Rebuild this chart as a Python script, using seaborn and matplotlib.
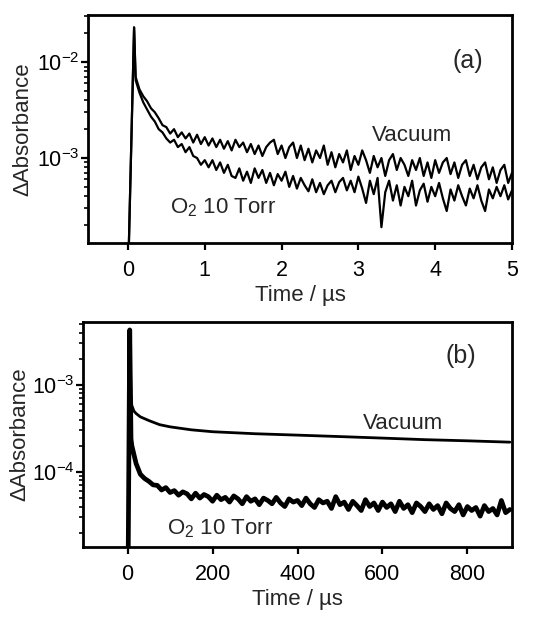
import numpy as np
import pandas as pd
import matplotlib
matplotlib.use("Agg")
import matplotlib.pyplot as plt
import seaborn as sns
from matplotlib.ticker import LogLocator, NullFormatter, FixedLocator

sns.set_style("ticks")
plt.rcParams['font.family'] = ['Liberation Sans', 'DejaVu Sans']
plt.rcParams['mathtext.default'] = 'regular'

# ---------------- Panel (a): time in microseconds, absorbance in mΔA ----------------
t_a_head = [0.0, 0.08]
vac_a_head_mA = [0.05, 23.0]
o2_a_head_mA = [0.05, 23.0]
t_a = np.round(np.arange(0.10, 5.001, 0.05), 2)
vac_a_mA = [7.0, 5.2, 4.4, 3.9, 3.3, 3.0, 2.6, 2.2, 2.1, 1.8,
            2.0, 1.65, 1.85, 1.6, 1.8, 1.45, 1.75, 1.4, 1.65, 1.35,
            1.6, 1.3, 1.55, 1.25, 1.5, 1.2, 1.55, 1.3, 1.45, 1.15,
            1.4, 1.1, 1.35, 1.05, 1.3, 1.45, 1.55, 1.1, 1.35, 1.0,
            1.3, 1.45, 1.0, 1.35, 0.95, 1.25, 0.9, 1.2, 1.0, 1.35,
            0.85, 1.15, 0.8, 1.1, 0.9, 1.2, 0.75, 1.05, 0.85, 1.2,
            0.95, 0.7, 1.05, 0.8, 1.0, 0.65, 0.95, 1.1, 0.75, 1.0,
            0.85, 0.65, 0.95, 0.75, 1.0, 0.65, 0.9, 0.62, 0.95, 0.7,
            0.9, 1.0, 0.68, 0.9, 0.62, 0.85, 0.95, 0.65, 0.85, 0.6,
            0.8, 0.9, 0.6, 0.8, 0.55, 0.75, 0.85, 0.55, 0.7]
o2_a_mA = [6.5, 4.8, 3.8, 3.2, 2.7, 2.4, 2.0, 1.85, 1.6, 1.45,
           1.55, 1.3, 1.4, 1.15, 1.3, 1.05, 1.0, 0.85, 0.95, 0.8,
           0.95, 0.75, 0.9, 0.7, 0.85, 0.65, 0.62, 0.78, 0.58, 0.72,
           0.55, 0.78, 0.62, 0.75, 0.55, 0.7, 0.52, 0.68, 0.58, 0.72,
           0.5, 0.65, 0.48, 0.62, 0.52, 0.45, 0.6, 0.44, 0.55, 0.42,
           0.52, 0.58, 0.44, 0.56, 0.62, 0.46, 0.58, 0.44, 0.64, 0.48,
           0.34, 0.58, 0.42, 0.62, 0.19, 0.44, 0.58, 0.36, 0.52, 0.32,
           0.5, 0.4, 0.58, 0.32, 0.46, 0.54, 0.35, 0.5, 0.4, 0.55,
           0.38, 0.28, 0.47, 0.36, 0.52, 0.4, 0.32, 0.48, 0.38, 0.52,
           0.36, 0.28, 0.47, 0.38, 0.5, 0.4, 0.52, 0.37, 0.46]

# ---------------- Panel (b): time in microseconds ----------------
t_b_vac = [0, 5, 8, 10, 15, 20, 30, 50, 75, 100, 150, 200, 300, 400, 500, 600, 700, 800, 900]
vac_b = [1e-6, 4.3e-3, 7.5e-4, 5.8e-4, 5.0e-4, 4.7e-4, 4.3e-4, 3.9e-4, 3.5e-4, 3.3e-4,
         3.05e-4, 2.9e-4, 2.75e-4, 2.65e-4, 2.55e-4, 2.45e-4, 2.35e-4, 2.28e-4, 2.2e-4]
t_b_o2_head = [0, 5, 8]
o2_b_head = [1e-6, 4.3e-3, 2.4e-4]
t_b_o2 = np.arange(10, 901, 10)
o2_b_1e5 = [20, 12.5, 9.4, 8.4, 7.8, 7.1, 7.0, 6.2, 6.6, 5.8,
            6.1, 5.4, 5.9, 5.6, 4.9, 5.7, 5.0, 5.5, 5.2, 4.6,
            5.4, 4.8, 5.1, 4.5, 5.3, 4.9, 4.3, 5.2, 4.6, 4.9,
            4.2, 5.0, 4.7, 4.3, 5.1, 4.4, 4.0, 4.9, 4.5, 4.7,
            4.1, 5.0, 4.3, 3.9, 4.8, 4.4, 4.6, 3.8, 5.2, 4.2,
            4.5, 3.7, 4.6, 4.1, 3.6, 4.8, 4.0, 4.4, 3.6, 4.5,
            3.9, 4.3, 3.5, 4.6, 3.8, 4.2, 3.4, 4.4, 4.0, 3.5,
            4.3, 3.7, 4.1, 3.3, 4.4, 3.8, 3.5, 4.2, 3.2, 4.0,
            3.6, 3.9, 3.1, 4.1, 3.5, 3.8, 3.2, 4.7, 3.4, 3.7]

labels = ["Vacuum", "O$_2$ 10 Torr"]

df_vac_a = pd.DataFrame({"t": list(t_a_head) + list(t_a),
                         "A": np.array(vac_a_head_mA + vac_a_mA) * 1e-3})
df_o2_a = pd.DataFrame({"t": list(t_a_head) + list(t_a),
                        "A": np.array(o2_a_head_mA + o2_a_mA) * 1e-3})
df_vac_b = pd.DataFrame({"t": t_b_vac, "A": vac_b})
df_o2_b = pd.DataFrame({"t": list(t_b_o2_head) + list(t_b_o2),
                        "A": list(o2_b_head) + list(np.array(o2_b_1e5) * 1e-5)})

W, H = 544, 617
fig = plt.figure(figsize=(W / 100, H / 100), dpi=100)
ax1 = fig.add_axes([88 / W, 1 - 243 / H, (512 - 88) / W, (243 - 15) / H])
ax2 = fig.add_axes([83 / W, 1 - 547 / H, (512 - 83) / W, (547 - 322) / H])

FS = 16
for df in (df_vac_a, df_o2_a):
    sns.lineplot(data=df, x="t", y="A", ax=ax1, color="black", lw=1.6,
                 estimator=None, sort=False)
sns.lineplot(data=df_vac_b, x="t", y="A", ax=ax2, color="black", lw=2.0,
             estimator=None, sort=False)
sns.lineplot(data=df_o2_b, x="t", y="A", ax=ax2, color="black", lw=3.4,
             estimator=None, sort=False)

for ax in (ax1, ax2):
    ax.set_yscale("log")
    ax.yaxis.set_minor_formatter(NullFormatter())
    ax.yaxis.set_minor_locator(LogLocator(base=10, subs=np.arange(2, 10)))
    for s in ax.spines.values():
        s.set_linewidth(2.0)
        s.set_color("black")
    ax.tick_params(axis="both", which="major", direction="out", length=5, width=1.6,
                   labelsize=15.5, colors="black")
    ax.tick_params(axis="x", which="major", pad=7)
    ax.tick_params(axis="y", which="major", pad=1)
    ax.tick_params(axis="y", which="minor", direction="out", length=3, width=1.4)
    ax.set_ylabel("ΔAbsorbance", fontsize=FS)
    ax.set_xlabel("Time / µs", fontsize=FS, labelpad=3)

ax1.set_xlim(-0.52, 5.0)
ax1.set_ylim(1.3e-4, 3.1e-2)
ax1.xaxis.set_major_locator(FixedLocator([0, 1, 2, 3, 4, 5]))
ax1.yaxis.set_label_coords(-0.13, 0.5)

ax2.set_xlim(-105, 905)
ax2.set_ylim(1.37e-5, 5.3e-3)
ax2.xaxis.set_major_locator(FixedLocator([0, 200, 400, 600, 800]))
ax2.yaxis.set_label_coords(-0.122, 0.5)

ax1.text(0.895, 0.8, "(a)", transform=ax1.transAxes, fontsize=18, ha="center", va="center")
ax1.text(0.765, 0.47, labels[0], transform=ax1.transAxes, fontsize=FS, ha="center", va="center")
ax1.text(0.318, 0.153, labels[1], transform=ax1.transAxes, fontsize=FS, ha="center", va="center")

ax2.text(0.88, 0.85, "(b)", transform=ax2.transAxes, fontsize=18, ha="center", va="center")
ax2.text(0.745, 0.55, labels[0], transform=ax2.transAxes, fontsize=FS, ha="center", va="center")
ax2.text(0.32, 0.08, labels[1], transform=ax2.transAxes, fontsize=FS, ha="center", va="center")

fig.savefig("out.png", dpi=100)
